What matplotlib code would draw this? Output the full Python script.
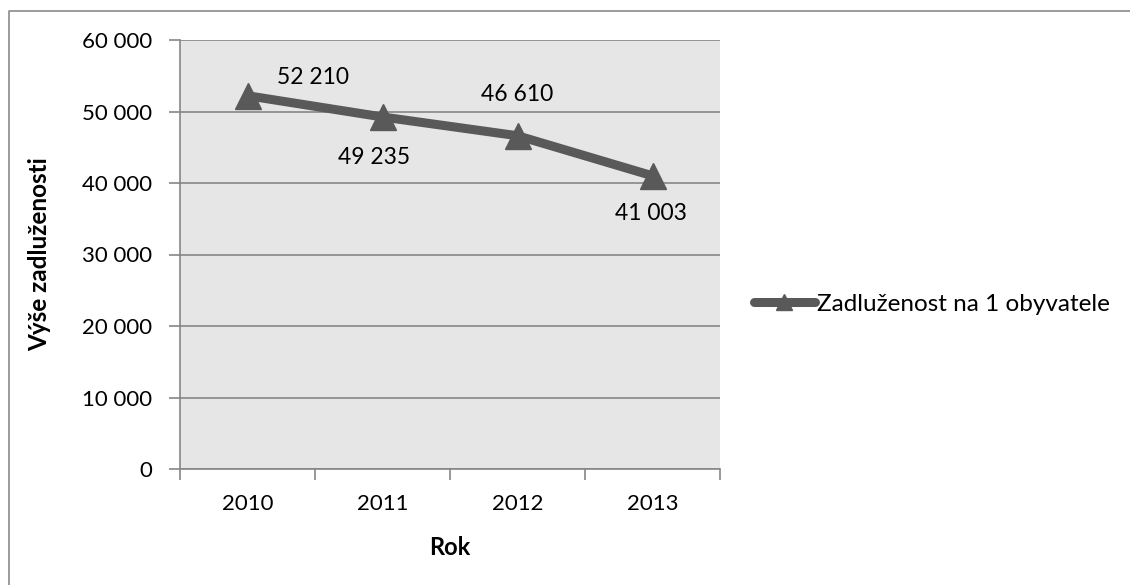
import matplotlib.pyplot as plt
from matplotlib.lines import Line2D
from matplotlib.ticker import FuncFormatter, FixedLocator

years = ["2010", "2011", "2012", "2013"]
debt_per_capita = [52210, 49235, 46610, 41003]
series_name = "Zadluženost na 1 obyvatele"
y_label = "Výše zadluženosti"
x_label = "Rok"

plt.rcParams["font.family"] = ["Lato", "DejaVu Sans"]

fig = plt.figure(figsize=(11.3, 5.85), dpi=100)
W, H = 1130, 585
ax = fig.add_axes([180 / W, 1 - 469 / H, 540 / W, 429 / H])

line_col = "#595959"
grid_col = "#868686"

# chart frame (top and left edges)
fig.add_artist(Line2D([8.5 / W, 8.5 / W, 1.0], [0.0, 1 - 10.5 / H, 1 - 10.5 / H],
                      transform=fig.transFigure, color="#8a8a8a", linewidth=1.2))

ax.set_facecolor("#e6e6e6")

x = list(range(len(years)))
ax.plot(x, debt_per_capita, color=line_col, linewidth=6.5, marker="^",
        markersize=19, solid_capstyle="round", label=series_name, zorder=3)

ax.set_xlim(-0.5, len(years) - 0.5)
ax.set_ylim(0, 60000)
ax.yaxis.set_major_locator(FixedLocator(range(0, 60001, 10000)))
ax.yaxis.set_major_formatter(FuncFormatter(lambda v, p: f"{int(v):,}".replace(",", " ")))
ax.grid(axis="y", color=grid_col, linewidth=1.2, zorder=1)
ax.set_axisbelow(True)

ax.set_xticks([i - 0.5 for i in range(len(years) + 1)])
ax.set_xticklabels([])
ax.set_xticks(x, minor=True)
ax.set_xticklabels(years, minor=True)
ax.tick_params(axis="x", which="minor", length=0, pad=18, labelsize=16)
ax.tick_params(axis="x", which="major", length=8, color=grid_col, width=1.2, direction="out")
ax.tick_params(axis="y", length=8, color=grid_col, width=1.2, direction="out", pad=12, labelsize=16)

for s in ["top", "right"]:
    ax.spines[s].set_visible(False)
for s in ["left", "bottom"]:
    ax.spines[s].set_color(grid_col)
    ax.spines[s].set_linewidth(1.2)

ax.set_ylabel(y_label, fontsize=17.5, fontweight="bold", labelpad=22)
ax.set_xlabel(x_label, fontsize=17, fontweight="bold", labelpad=16)

# data labels
offsets = [(47, 13), (-6, -29), (0, 29.5), (-1, -27)]
for xi, v, (dx, dy) in zip(x, debt_per_capita, offsets):
    ax.annotate(f"{v:,}".replace(",", " "), (xi, v), xytext=(dx, dy),
                textcoords="offset points", ha="center", va="center", fontsize=16.5)

leg = fig.legend(loc="center left", bbox_to_anchor=(754 / W, 1 - 304 / H),
                 frameon=False, fontsize=17.5, handlelength=2.5, handletextpad=0.1,
                 borderaxespad=0, borderpad=0, markerscale=0.6)

fig.savefig("out.png", dpi=100)
